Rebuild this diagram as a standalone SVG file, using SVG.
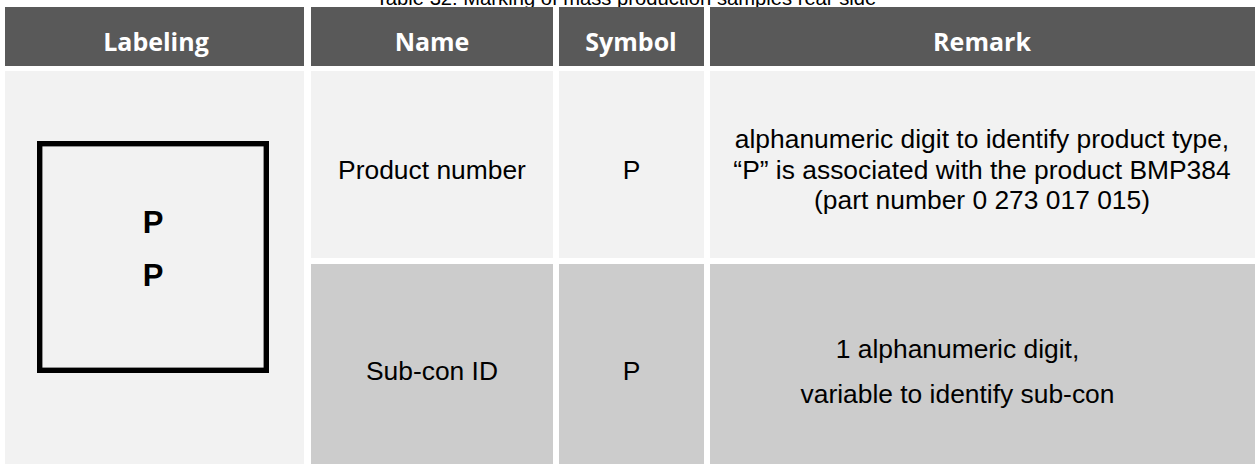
<svg xmlns="http://www.w3.org/2000/svg" width="1255" height="464" viewBox="0 0 1255 464">
<style>
.hdr{fill:#595959}
.r1{fill:#f2f2f2}
.r2{fill:#cccccc}
.ht{font-family:"Open Sans","Noto Sans",sans-serif;font-weight:bold;font-size:25px;fill:#ffffff;text-anchor:middle}
.bt{font-family:"Liberation Sans",Arial,sans-serif;font-size:26.4px;fill:#000000;text-anchor:middle}
.bp{font-family:"Liberation Sans",Arial,sans-serif;font-weight:bold;font-size:31px;fill:#000000;text-anchor:middle}
.title{font-family:"Liberation Sans",Arial,sans-serif;font-size:20.2px;fill:#000000;text-anchor:middle}
</style>
<rect width="1255" height="464" fill="#ffffff"/>
<text class="title" x="626" y="5">Table 32: Marking of mass production samples rear side</text>
<g id="header">
<rect class="hdr" x="5" y="7" width="299" height="59"/>
<rect class="hdr" x="311" y="7" width="242" height="59"/>
<rect class="hdr" x="559" y="7" width="145" height="59"/>
<rect class="hdr" x="710" y="7" width="545" height="59"/>
<text class="ht" x="156" y="51">Labeling</text>
<text class="ht" x="432" y="51">Name</text>
<text class="ht" x="631" y="51">Symbol</text>
<text class="ht" x="982" y="51">Remark</text>
</g>
<g id="labeling">
<rect class="r1" x="5" y="71" width="299" height="393"/>
<rect x="39.7" y="143.7" width="226.6" height="226.6" fill="none" stroke="#000000" stroke-width="5.4"/>
<text class="bp" x="153" y="233">P</text>
<text class="bp" x="153" y="286">P</text>
</g>
<g id="row-product">
<rect class="r1" x="311" y="71" width="242" height="187"/>
<rect class="r1" x="559" y="71" width="145" height="187"/>
<rect class="r1" x="710" y="71" width="545" height="187"/>
<text class="bt" x="432" y="179">Product number</text>
<text class="bt" x="631.5" y="179">P</text>
<text class="bt" x="982" y="148">alphanumeric digit to identify product type,</text>
<text class="bt" x="982" y="179">“P” is associated with the product BMP384</text>
<text class="bt" x="982" y="209">(part number 0 273 017 015)</text>
</g>
<g id="row-subcon">
<rect class="r2" x="311" y="264" width="242" height="200"/>
<rect class="r2" x="559" y="264" width="145" height="200"/>
<rect class="r2" x="710" y="264" width="545" height="200"/>
<text class="bt" x="432" y="380">Sub-con ID</text>
<text class="bt" x="631.5" y="380">P</text>
<text class="bt" x="957.5" y="358">1 alphanumeric digit,</text>
<text class="bt" x="957.5" y="403">variable to identify sub-con</text>
</g>
<g id="connectors"/>
</svg>
